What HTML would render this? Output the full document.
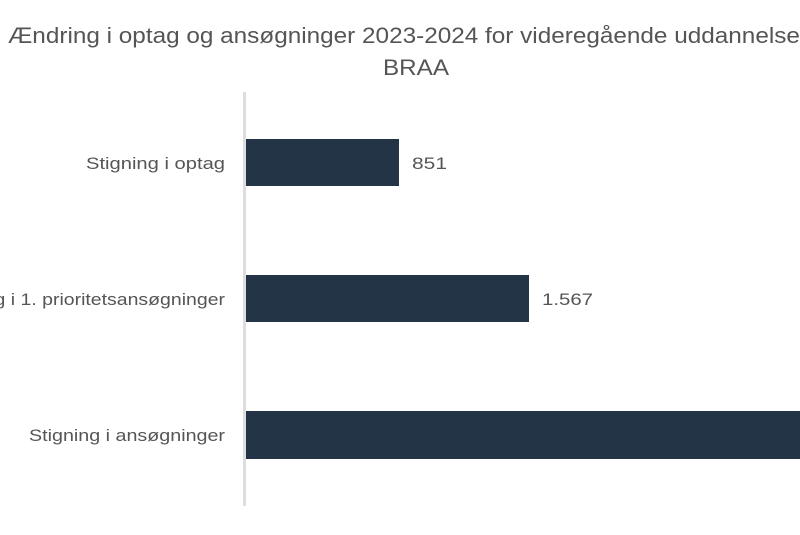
<!DOCTYPE html>
<html><head><style>body{margin:0;background:#fff}</style></head><body>
<svg width="800" height="530" xmlns="http://www.w3.org/2000/svg" font-family="Liberation Sans, sans-serif">
<rect width="800" height="530" fill="#fff"/>
<text x="8" y="43" font-size="22" fill="#555" textLength="800" lengthAdjust="spacingAndGlyphs">Ændring i optag og ansøgninger 2023-2024 for videregående uddannelser</text>
<text x="416" y="75" font-size="22" fill="#555" text-anchor="middle" textLength="66" lengthAdjust="spacingAndGlyphs">BRAA</text>
<rect x="243" y="92" width="3" height="414" fill="#ddd"/>
<rect x="246" y="139" width="153" height="47" fill="#243447"/>
<rect x="246" y="275" width="283" height="47" fill="#243447"/>
<rect x="246" y="411" width="560" height="48" fill="#243447"/>
<g font-size="17" fill="#555">
<text x="412" y="169" textLength="35" lengthAdjust="spacingAndGlyphs">851</text>
<text x="542" y="305" textLength="51" lengthAdjust="spacingAndGlyphs">1.567</text>
<text x="225" y="169" text-anchor="end" textLength="139" lengthAdjust="spacingAndGlyphs">Stigning i optag</text>
<text x="225" y="305" text-anchor="end" textLength="290" lengthAdjust="spacingAndGlyphs">Stigning i 1. prioritetsansøgninger</text>
<text x="225" y="441" text-anchor="end" textLength="196" lengthAdjust="spacingAndGlyphs">Stigning i ansøgninger</text>
</g>
</svg>
</body></html>
